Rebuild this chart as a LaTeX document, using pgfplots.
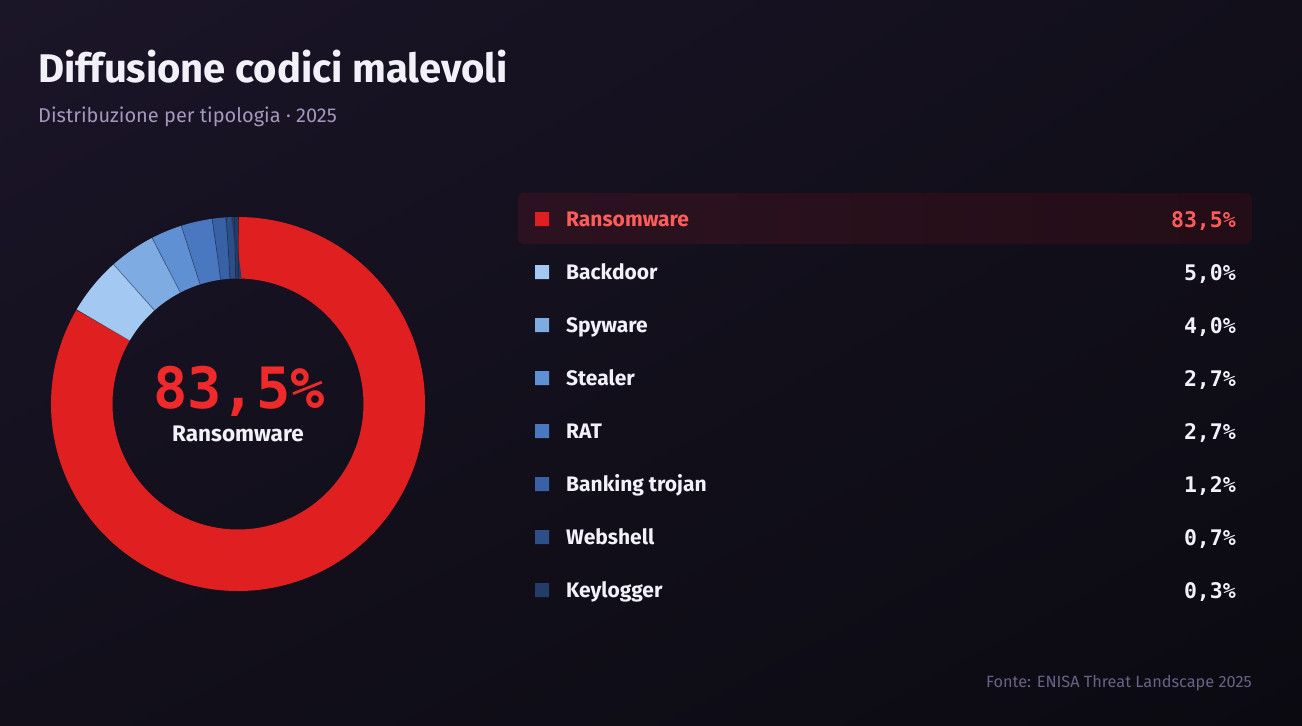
\documentclass[border=0pt]{standalone}
\usepackage{pgfplots}
\pgfplotsset{compat=1.18}
\usepgfplotslibrary{polar}
\usetikzlibrary{shadings}
\usepackage{pgfplotstable}
\usepackage{fontspec}
\setmainfont[Ligatures=CommonOff]{Fira Sans}
\newfontfamily\monof{DejaVu Sans Mono}

\definecolor{bgTL}{HTML}{1B1528}
\definecolor{bgMid}{HTML}{120F1B}
\definecolor{bgBR}{HTML}{0B0A11}
\definecolor{cRansomware}{HTML}{E01F20}
\definecolor{cBackdoor}{HTML}{A3C8F2}
\definecolor{cSpyware}{HTML}{7FABE3}
\definecolor{cStealer}{HTML}{6090D4}
\definecolor{cRAT}{HTML}{4A78C0}
\definecolor{cBanking}{HTML}{3862A5}
\definecolor{cWebshell}{HTML}{2C4F88}
\definecolor{cKeylogger}{HTML}{233D68}
\definecolor{hiText}{HTML}{FF5C5C}
\definecolor{bigRed}{HTML}{F02A2A}
\definecolor{txtW}{HTML}{F2F0F8}
\definecolor{subCol}{HTML}{A397BD}
\definecolor{srcCol}{HTML}{6A6088}
\definecolor{rowL}{HTML}{2C1220}
\definecolor{rowR}{HTML}{230D16}
\definecolor{sepCol}{HTML}{1A1726}

\pgfdeclareplotmark{rsquare}{%
  \pgfsetcornersarced{\pgfpoint{2.5pt}{2.5pt}}%
  \pgfpathmoveto{\pgfqpoint{0pt}{-\pgfplotmarksize}}%
  \pgfpathlineto{\pgfqpoint{\pgfplotmarksize}{-\pgfplotmarksize}}%
  \pgfpathlineto{\pgfqpoint{\pgfplotmarksize}{\pgfplotmarksize}}%
  \pgfpathlineto{\pgfqpoint{-\pgfplotmarksize}{\pgfplotmarksize}}%
  \pgfpathlineto{\pgfqpoint{-\pgfplotmarksize}{-\pgfplotmarksize}}%
  \pgfpathclose
  \pgfusepathqfill}

\pgfplotstableread[col sep=comma]{
name,val,col
Ransomware,83.5,cRansomware
Backdoor,5.0,cBackdoor
Spyware,4.0,cSpyware
Stealer,2.7,cStealer
RAT,2.7,cRAT
Banking trojan,1.2,cBanking
Webshell,0.7,cWebshell
Keylogger,0.3,cKeylogger
}\datatable

\begin{document}
\begin{tikzpicture}[x=1pt,y=1pt]
% background
\shade[upper left=bgTL, upper right=bgMid, lower left=bgMid, lower right=bgBR]
  (0,0) rectangle (1302,-726);
\useasboundingbox (0,0) rectangle (1302,-726);

% titles
\node[anchor=base west, inner sep=0, text=txtW] at (38,-82)
  {\fontsize{40}{40}\selectfont\bfseries Diffusione codici malevoli};
\node[anchor=base west, inner sep=0, text=subCol] at (38,-122)
  {\fontsize{20}{20}\selectfont Distribuzione per tipologia · 2025};
\node[anchor=base east, inner sep=0, text=srcCol] at (1252,-687)
  {\fontsize{16.3}{16.3}\selectfont Fonte: ENISA Threat Landscape 2025};

% donut
\begin{polaraxis}[at={(238pt,-404pt)}, anchor=center, scale only axis,
  width=374pt, height=374pt, ymin=0, ymax=1, hide axis, clip=false]
  \def\total{0}
  \pgfplotsforeachungrouped \i in {0,...,7}{%
    \pgfplotstablegetelem{\i}{val}\of\datatable
    \pgfmathsetmacro\total{\total+\pgfplotsretval}%
  }
  \pgfmathsetmacro\fac{360/\total}%
  \def\cum{0}
  \pgfplotsforeachungrouped \i in {0,...,7}{%
    \pgfplotstablegetelem{\i}{val}\of\datatable \let\v\pgfplotsretval
    \pgfplotstablegetelem{\i}{col}\of\datatable \let\c\pgfplotsretval
    \pgfmathsetmacro\aEnd{90-\fac*\cum}%
    \pgfmathsetmacro\cum{\cum+\v}%
    \pgfmathsetmacro\aStart{90-\fac*\cum}%
    \edef\temp{\noexpand\addplot[draw=\c, line width=61.5pt, line cap=butt,
      domain=\aStart:\aEnd, samples=150, no marks] {0.8356};}%
    \temp
  }
  \def\cum{0}
  \pgfplotsforeachungrouped \i in {0,...,7}{%
    \pgfplotstablegetelem{\i}{val}\of\datatable \let\v\pgfplotsretval
    \pgfmathsetmacro\aB{90-\fac*\cum}%
    \pgfmathsetmacro\cum{\cum+\v}%
    \edef\temp{\noexpand\addplot[draw=sepCol, opacity=0.45, line width=0.7pt, no marks]
      coordinates {(\aB,0.668) (\aB,1.003)};}%
    \temp
  }
\end{polaraxis}

% center label
\node[anchor=base, inner sep=0, text=bigRed] at (239,-408)
  {\monof\fontsize{57}{57}\selectfont\bfseries 83,5\%};
\node[anchor=base, inner sep=0, text=txtW] at (238,-441)
  {\fontsize{22.5}{22.5}\selectfont\bfseries Ransomware};

% legend list
\begin{axis}[at={(518pt,-192.5pt)}, anchor=north west, scale only axis,
  width=734pt, height=424pt, xmin=0, xmax=734, ymin=0.5, ymax=8.5,
  y dir=reverse, hide axis, clip=false]
  \shade[left color=rowL, right color=rowR, rounded corners=6pt]
    (axis cs:0,0.51) rectangle (axis cs:734,1.47);
  \pgfplotsforeachungrouped \i in {0,...,7}{%
    \pgfplotstablegetelem{\i}{name}\of\datatable \let\n\pgfplotsretval
    \pgfplotstablegetelem{\i}{val}\of\datatable \let\v\pgfplotsretval
    \pgfplotstablegetelem{\i}{col}\of\datatable \let\c\pgfplotsretval
    \pgfmathtruncatemacro\k{\i+1}%
    \ifnum\i=0 \def\tc{hiText}\else\def\tc{txtW}\fi
    \edef\temp{%
      \noexpand\addplot[only marks, mark=rsquare, mark size=7pt,
        color=\c] coordinates {(24,\k)};
      \noexpand\node[anchor=base west, inner sep=0, text=\tc, yshift=-7.5pt]
        at (axis cs:48,\k) {\noexpand\fontsize{21}{21}\noexpand\selectfont\noexpand\bfseries \n};
      \noexpand\node[anchor=base east, inner sep=0, text=\tc, yshift=-8pt]
        at (axis cs:718,\k) {\noexpand\monof\noexpand\fontsize{21.5}{21.5}\noexpand\selectfont\noexpand\bfseries
        \noexpand\pgfmathprintnumber[fixed, fixed zerofill, precision=1, use comma, assume math mode=true]{\v}\noexpand\%};
    }%
    \temp
  }
\end{axis}
\end{tikzpicture}
\end{document}
